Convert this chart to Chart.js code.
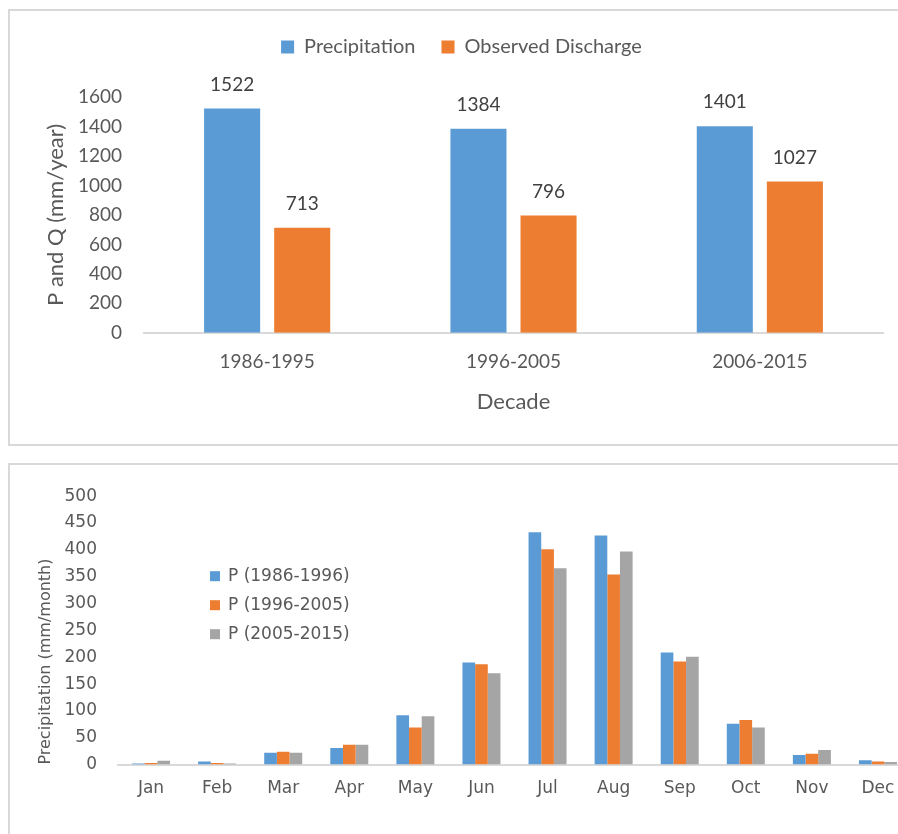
<!DOCTYPE html>
<html lang="en">
<head>
<meta charset="UTF-8">
<title>Precipitation and discharge</title>
<script src="https://cdn.jsdelivr.net/npm/chart.js@4.4.0/dist/chart.umd.min.js"></script>
<style>
    html, body { margin: 0; padding: 0; overflow: hidden; background: #fff; }
    .box { position: absolute; left: 8px; border: 2px solid #d9d9d9; background: #fff; }
    #topBox { top: 9px; width: 910px; height: 433px; }
    #botBox { top: 463px; width: 920px; height: 400px; }
    canvas { display: block; }
</style>
</head>
<body>
<div class="box" id="topBox"><canvas id="decadeChart" width="910" height="433"></canvas></div>
<div class="box" id="botBox"><canvas id="monthChart" width="920" height="400"></canvas></div>

<script>
// decade totals
const decades = ["1986-1995", "1996-2005", "2006-2015"];
const precipitation = [1522, 1384, 1401];
const discharge = [713, 796, 1027];
const decadeTicks = [0, 200, 400, 600, 800, 1000, 1200, 1400, 1600];

// monthly precipitation
const months = ["Jan", "Feb", "Mar", "Apr", "May", "Jun", "Jul", "Aug", "Sep", "Oct", "Nov", "Dec"];
const p1986 = [2, 6, 22, 31, 92, 190, 433, 427, 209, 76, 18, 8];
const p1996 = [3, 3, 24, 37, 69, 187, 401, 354, 192, 83, 20, 6];
const p2005 = [7, 2, 22, 37, 90, 170, 366, 397, 201, 69, 27, 5];
const monthTicks = [0, 50, 100, 150, 200, 250, 300, 350, 400, 450, 500];

const BLUE = "#5b9bd5", ORANGE = "#ed7d31", GREY = "#a5a5a5";
const TXT = "#595959";

// value labels above the bars (top chart)
const valueLabels = {
    id: "valueLabels",
    afterDatasetsDraw(chart) {
        const ctx = chart.ctx;
        ctx.save();
        ctx.font = "19px Lato";
        ctx.fillStyle = "#404040";
        ctx.textAlign = "center";
        ctx.textBaseline = "middle";
        chart.data.datasets.forEach((ds, i) => {
            chart.getDatasetMeta(i).data.forEach((bar, j) => {
                ctx.fillText(ds.data[j], bar.x, bar.y - 24);
            });
        });
        ctx.restore();
    }
};

// extra room under the legend
const legendGap = {
    id: "legendGap",
    beforeLayout(chart, args, opts) {
        const lg = chart.legend;
        if (lg && !lg._gapPatched) {
            const fit = lg.fit;
            lg.fit = function () { fit.call(this); this.height += opts.gap; };
            lg._gapPatched = true;
        }
    }
};

// legend drawn inside the plot area (bottom chart)
const innerLegend = {
    id: "innerLegend",
    afterDraw(chart) {
        const ctx = chart.ctx;
        const a = chart.chartArea;
        ctx.save();
        ctx.font = "17px 'DejaVu Sans'";
        ctx.textBaseline = "middle";
        chart.data.datasets.forEach((ds, i) => {
            const y = a.top + 80 + i * 29;
            ctx.fillStyle = ds.backgroundColor;
            ctx.fillRect(a.left + 92, y - 5, 10, 10);
            ctx.fillStyle = TXT;
            ctx.fillText(ds.label, a.left + 110, y);
        });
        ctx.restore();
    }
};

new Chart("decadeChart", {
    type: "bar",
    data: {
        labels: decades,
        datasets: [
            { label: "Precipitation", data: precipitation, backgroundColor: BLUE },
            { label: "Observed Discharge", data: discharge, backgroundColor: ORANGE }
        ]
    },
    options: {
        responsive: false,
        animation: false,
        categoryPercentage: 0.569,
        barPercentage: 0.8,
        layout: { padding: { left: 30, right: 37, top: 0, bottom: 29 } },
        plugins: {
            legend: {
                position: "top",
                labels: { font: { family: "Lato", size: 20 }, color: TXT, boxWidth: 13, boxHeight: 13, padding: 26 }
            },
            legendGap: { gap: 30 },
            tooltip: { enabled: false }
        },
        scales: {
            x: {
                grid: { display: false, drawTicks: false },
                border: { color: "#d9d9d9", width: 2 },
                ticks: { font: { family: "Lato", size: 19 }, color: TXT, padding: 18 },
                title: { display: true, text: "Decade", font: { family: "Lato", size: 22 }, color: TXT, padding: { top: -3, bottom: 0 } }
            },
            y: {
                min: 0,
                max: 1600,
                afterFit(scale) { scale.width = 104; },
                afterBuildTicks(scale) { scale.ticks = decadeTicks.map(v => ({ value: v })); },
                grid: { display: false, drawTicks: false },
                border: { display: false },
                ticks: { font: { family: "Lato", size: 19 }, color: TXT, padding: 22, callback: v => String(v) },
                title: { display: true, text: "P and Q (mm/year)", font: { family: "Lato", size: 22 }, color: TXT, padding: { top: 3, bottom: 0 } }
            }
        }
    },
    plugins: [valueLabels, legendGap]
});

new Chart("monthChart", {
    type: "bar",
    data: {
        labels: months,
        datasets: [
            { label: "P (1986-1996)", data: p1986, backgroundColor: BLUE },
            { label: "P (1996-2005)", data: p1996, backgroundColor: ORANGE },
            { label: "P (2005-2015)", data: p2005, backgroundColor: GREY }
        ]
    },
    options: {
        responsive: false,
        animation: false,
        categoryPercentage: 0.575,
        barPercentage: 1.0,
        layout: { padding: { left: 20, right: 19, top: 25, bottom: 52 } },
        plugins: {
            legend: { display: false },
            tooltip: { enabled: false }
        },
        scales: {
            x: {
                grid: { display: false, drawTicks: false },
                border: { color: "#d9d9d9", width: 2 },
                ticks: { font: { family: "DejaVu Sans", size: 17 }, color: TXT, padding: 14 }
            },
            y: {
                min: 0,
                max: 500,
                afterFit(scale) { scale.width = 88; },
                afterBuildTicks(scale) { scale.ticks = monthTicks.map(v => ({ value: v })); },
                grid: { display: false, drawTicks: false },
                border: { display: false },
                ticks: { font: { family: "DejaVu Sans", size: 17 }, color: TXT, padding: 21 },
                title: { display: true, text: "Precipitation (mm/month)", align: "start", font: { family: "DejaVu Sans", size: 16 }, color: TXT, padding: { top: 6, bottom: 0 } }
            }
        }
    },
    plugins: [innerLegend]
});
</script>
</body>
</html>
